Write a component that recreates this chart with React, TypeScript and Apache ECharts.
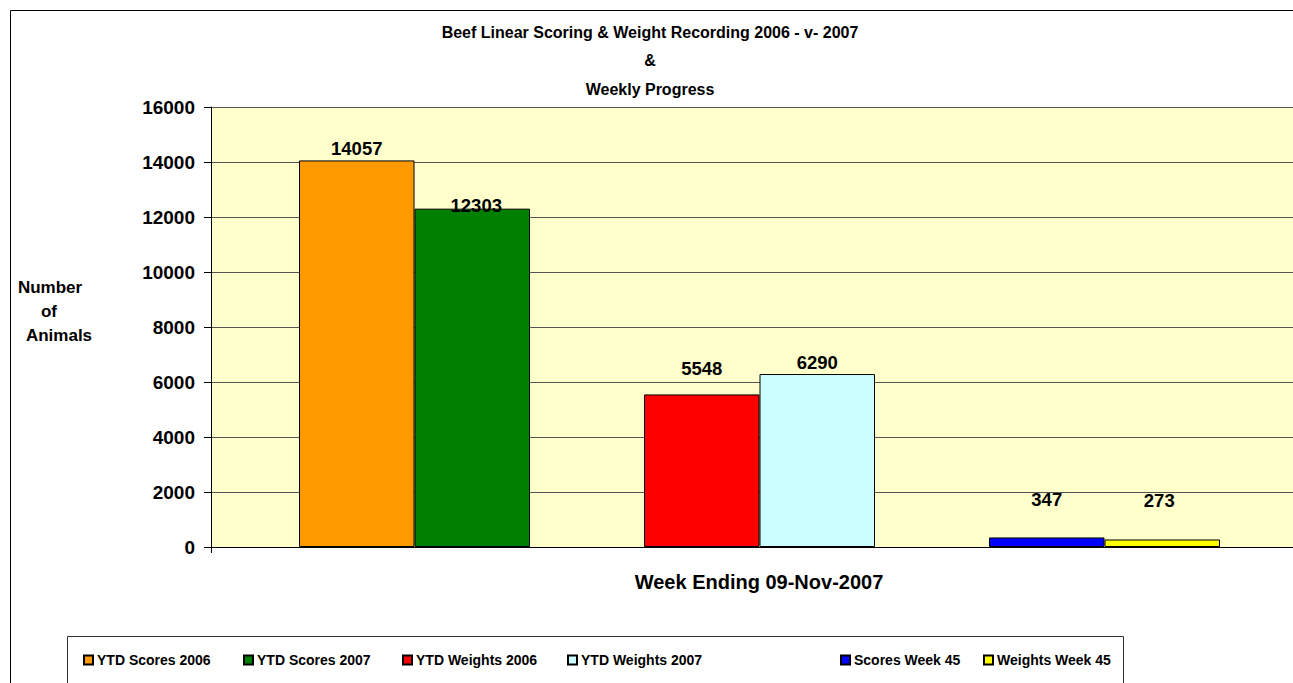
import React, { useEffect, useRef } from "react";
import * as echarts from "echarts";

// ---- data ----
const categories = ["YTD Scores", "YTD Weights", "Week 45"];
const seriesNames = [
  "YTD Scores 2006",
  "YTD Scores 2007",
  "YTD Weights 2006",
  "YTD Weights 2007",
  "Scores Week 45",
  "Weights Week 45",
];
const ytdScores2006 = [14057, null, null];
const ytdScores2007 = [12303, null, null];
const ytdWeights2006 = [null, 5548, null];
const ytdWeights2007 = [null, 6290, null];
const scoresWeek45 = [null, null, 347];
const weightsWeek45 = [null, null, 273];
const yMin = 0;
const yMax = 16000;
const yStep = 2000;

const titleLines = ["Beef Linear Scoring & Weight Recording 2006 - v- 2007", "&", "Weekly Progress"];
const yNameLines = ["Number", "of", "Animals"];
const xName = "Week Ending 09-Nov-2007";

// ---- styles ----
const colors = ["#FF9900", "#008000", "#FF0000", "#CCFFFF", "#0000FF", "#FFFF00"];
const stacks = ["L", "R", "L", "R", "L", "R"];
const labelOffsets = [
  [0, 3],
  [4, 11],
  [0, -11],
  [0, 3],
  [0, -23],
  [-3, -24],
];
const legendLefts = [83, 243, 402, 567, 840, 983];
const FONT = "Arial, 'Liberation Sans', sans-serif";

export default function App() {
  const ref = useRef<HTMLDivElement>(null);
  useEffect(() => {
    if (!ref.current) return;
    const chart = echarts.init(ref.current, null, { renderer: "svg" });
    const values = [ytdScores2006, ytdScores2007, ytdWeights2006, ytdWeights2007, scoresWeek45, weightsWeek45];
    const series = seriesNames.map((name, i) => ({
      name,
      type: "bar",
      xAxisIndex: 1,
      yAxisIndex: 1,
      stack: stacks[i],
      data: values[i],
      barWidth: 115.5,
      barGap: "0%",
      itemStyle: { color: colors[i], borderColor: "#000", borderWidth: 1 },
      label: {
        show: true,
        position: "top",
        offset: labelOffsets[i],
        color: "#000",
        fontFamily: FONT,
        fontWeight: "bold",
        fontSize: 18.5,
      },
    }));
    const legends = seriesNames.map((name, i) => ({
      data: [name],
      left: legendLefts[i],
      top: 653,
      padding: 0,
      itemWidth: 9,
      itemHeight: 9,
      itemGap: 4,
      icon: "rect",
      selectedMode: false,
      textStyle: { fontFamily: FONT, fontWeight: "bold", fontSize: 14, color: "#000", padding: [0, 0, 0, -1] },
    }));
    const option: any = {
      animation: false,
      textStyle: { fontFamily: FONT },
      legend: legends,
      grid: [
        { left: 211, top: 107, right: 0, bottom: 136, show: true, backgroundColor: "#FFFFCC", borderWidth: 0 },
        { left: 242, top: 107, width: 1035, bottom: 136, show: false },
      ],
      xAxis: [
        {
          gridIndex: 0,
          type: "category",
          data: [""],
          axisLine: { show: true, lineStyle: { color: "#000", width: 1 } },
          axisTick: { show: true, length: 6, lineStyle: { color: "#000" } },
          axisLabel: { show: false },
        },
        { gridIndex: 1, type: "category", data: categories, show: false },
      ],
      yAxis: [
        {
          gridIndex: 0,
          type: "value",
          min: yMin,
          max: yMax,
          interval: yStep,
          axisLine: { show: true, lineStyle: { color: "#000", width: 1 } },
          axisTick: { show: true, length: 7, lineStyle: { color: "#000" } },
          axisLabel: {
            fontFamily: FONT,
            fontWeight: "bold",
            fontSize: 19,
            color: "#000",
            margin: 16,
            formatter: (v: number) => String(v),
          },
          splitLine: { show: true, lineStyle: { color: "#555", width: 1 } },
        },
        { gridIndex: 1, type: "value", min: yMin, max: yMax, interval: yStep, show: false, splitLine: { show: false } },
      ],
      series,
      graphic: [
        {
          type: "line",
          shape: { x1: 10.5, y1: 10.5, x2: 1293, y2: 10.5 },
          style: { stroke: "#000", lineWidth: 1 },
          silent: true,
        },
        {
          type: "line",
          shape: { x1: 10.5, y1: 10.5, x2: 10.5, y2: 683 },
          style: { stroke: "#000", lineWidth: 1 },
          silent: true,
        },
        {
          type: "polyline",
          shape: { points: [[67.5, 683], [67.5, 636.5], [1123.5, 636.5], [1123.5, 683]] },
          style: { fill: "none", stroke: "#333", lineWidth: 1 },
          silent: true,
        },
        ...titleLines.map((t, i) => ({
          type: "text",
          x: 650,
          y: 32 + i * 28.5,
          style: { text: t, font: `bold 16px ${FONT}`, fill: "#000", textAlign: "center", textVerticalAlign: "middle" },
          silent: true,
        })),
        ...yNameLines.map((t, i) => ({
          type: "text",
          x: [50, 49, 59][i],
          y: 287 + i * 24,
          style: { text: t, font: `bold 17px ${FONT}`, fill: "#000", textAlign: "center", textVerticalAlign: "middle" },
          silent: true,
        })),
        {
          type: "text",
          x: 759,
          y: 582,
          style: { text: xName, font: `bold 20px ${FONT}`, fill: "#000", textAlign: "center", textVerticalAlign: "middle" },
          silent: true,
        },
      ],
    };
    chart.setOption(option);
    return () => chart.dispose();
  }, []);
  return <div ref={ref} style={{ position: "absolute", left: 0, top: 0, width: 1293, height: 683 }} />;
}
